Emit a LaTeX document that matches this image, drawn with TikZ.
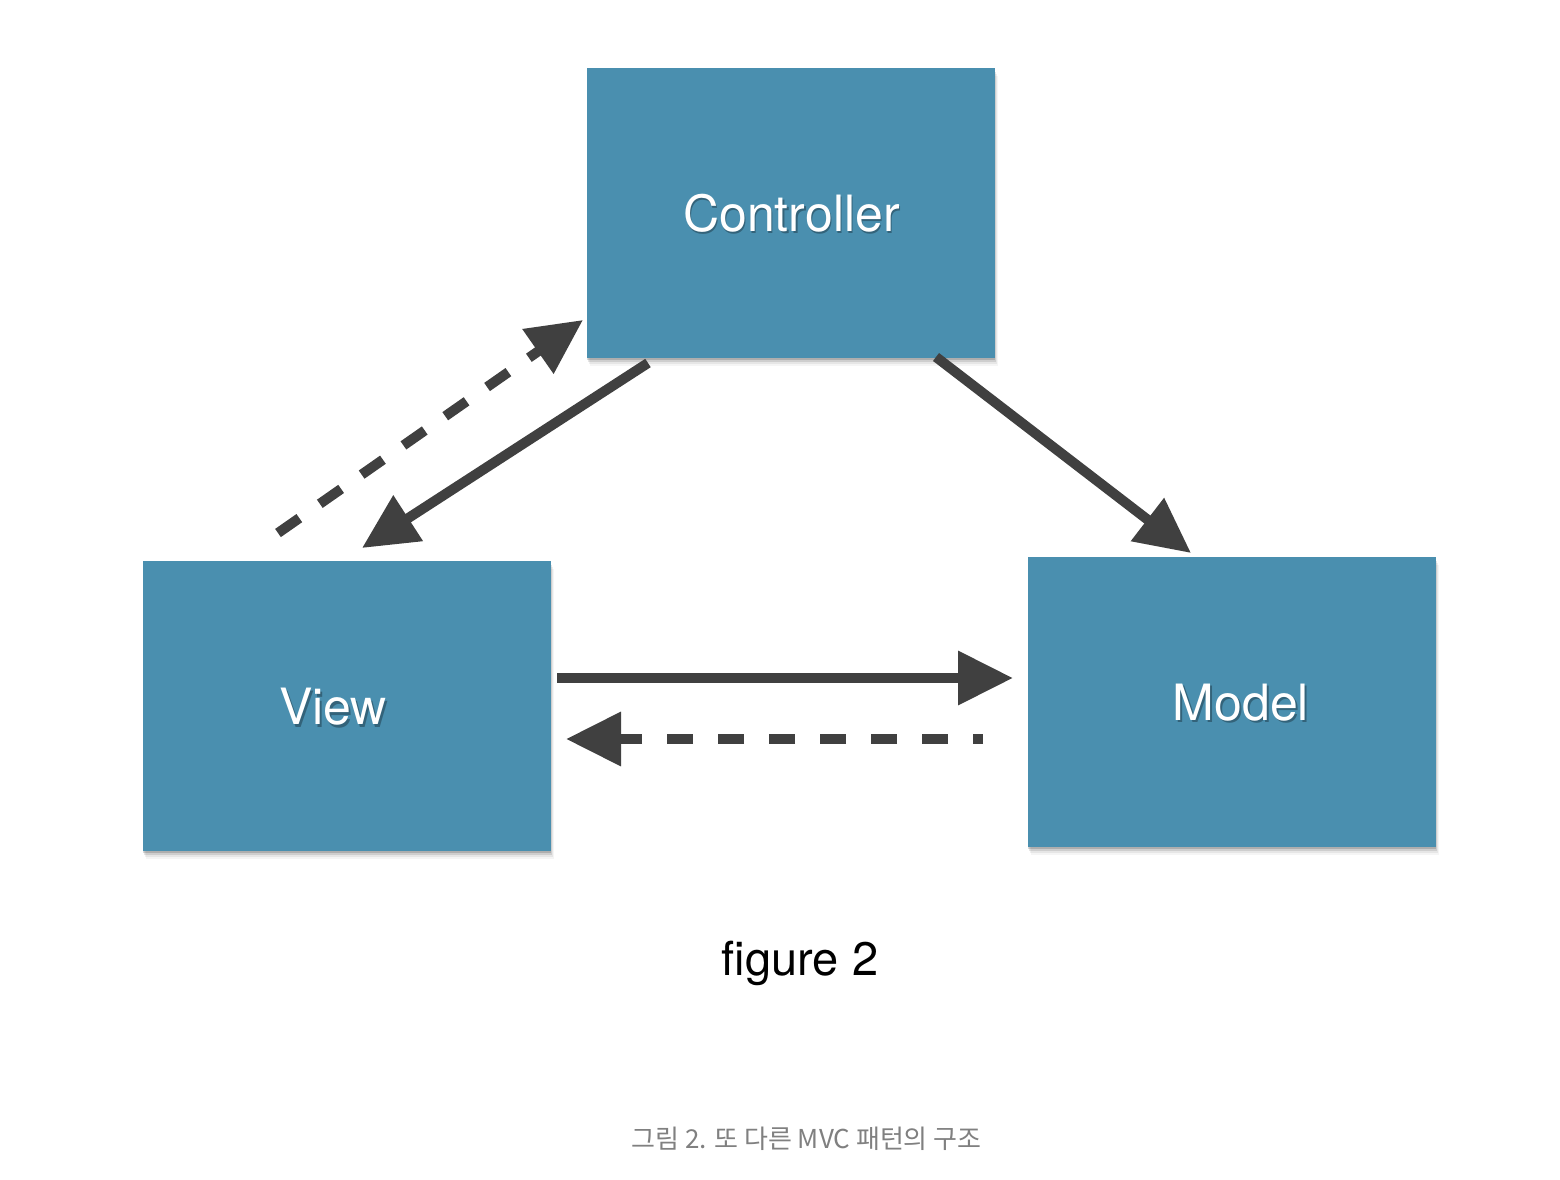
\documentclass[tikz,border=0pt]{standalone}
\usepackage{fontspec}
\setmainfont{TeX Gyre Heros}
\newfontfamily\krfont{Noto Sans CJK KR}
\usetikzlibrary{arrows.meta,shadows}
\definecolor{boxblue}{RGB}{74,143,175}
\definecolor{arrowgray}{RGB}{64,64,64}
\definecolor{capgray}{RGB}{128,128,128}
\tikzset{
  mvcbox/.style={rectangle, fill=boxblue, draw=none, inner sep=0pt,
    minimum width=408pt, minimum height=290pt,
    drop shadow={shadow xshift=0pt, shadow yshift=-2pt, opacity=0.15, fill=black},
    drop shadow={shadow xshift=1pt, shadow yshift=-4pt, opacity=0.10, fill=black},
    drop shadow={shadow xshift=2pt, shadow yshift=-6pt, opacity=0.06, fill=black},
    drop shadow={shadow xshift=3pt, shadow yshift=-8pt, opacity=0.04, fill=black}},
  boxtext/.style={text=white, inner sep=0pt, font=\fontsize{50}{60}\selectfont},
  boxtextshadow/.style={text=black, opacity=0.3, inner sep=0pt, font=\fontsize{50}{60}\selectfont},
  flow/.style={draw=arrowgray, line width=10pt,
    -{Triangle[length=55pt,width=52pt]}, arrowgray},
  dashflow/.style={flow, dash pattern=on 26pt off 25pt}
}
\begin{document}
\begin{tikzpicture}[x=1pt,y=-1pt]
\useasboundingbox (0,0) rectangle (1560,1180);
\fill[white] (0,0) rectangle (1560,1180);
\node[mvcbox] (ctrl) at (791,213) {};
\node[mvcbox] (view) at (346.5,706) {};
\node[mvcbox] (model) at (1231.5,701.5) {};
\node[boxtextshadow] (ctrlshadow) at (793,215.5) {Controller};
\node[boxtextshadow] (viewshadow) at (335,709.5) {View};
\node[boxtextshadow] (modelshadow) at (1243,705) {Model};
\node[boxtext] (ctrltext) at (791.5,213) {Controller};
\node[boxtext] (viewtext) at (333,707) {View};
\node[boxtext] (modeltext) at (1241,702.5) {Model};
% connector end points
\coordinate (cv1) at (648,363);
\coordinate (cv2) at (362,548);
\coordinate (vc1) at (278,533);
\coordinate (vc2) at (583,320);
\coordinate (cm1) at (936,357);
\coordinate (cm2) at (1191,553);
\coordinate (vm1) at (557,678);
\coordinate (vm2) at (1013,678);
\coordinate (mv1) at (983,739);
\coordinate (mv2) at (566,739);
\draw[flow] (cv1) -- (cv2);
\draw[dashflow] (vc1) -- (vc2);
\draw[flow] (cm1) -- (cm2);
\draw[flow] (vm1) -- (vm2);
\draw[dashflow, dash phase=16pt] (mv1) -- (mv2);
\node[anchor=base, font=\fontsize{47}{56}\selectfont, text=black] (fig) at (800,975) {figure 2};
\node[anchor=base, font=\krfont\fontsize{26}{31}\selectfont, text=capgray] (cap) at (806.5,1148) {그림 2. 또 다른 MVC 패턴의 구조};
\end{tikzpicture}
\end{document}
